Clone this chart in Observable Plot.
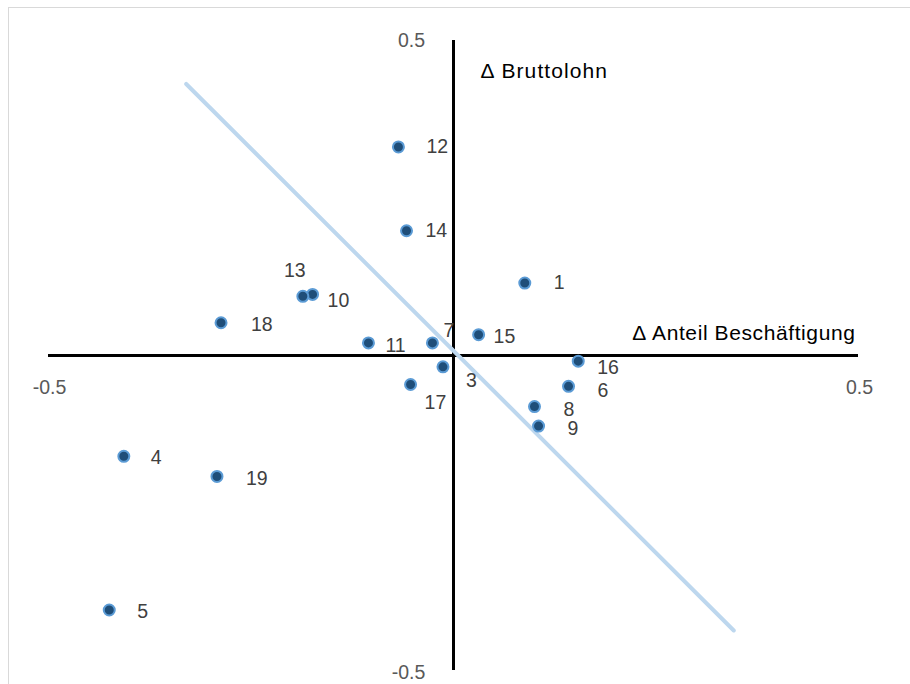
<!DOCTYPE html>
<html>
<head>
<meta charset="utf-8">
<script src="https://cdn.jsdelivr.net/npm/d3@7"></script>
<script src="https://cdn.jsdelivr.net/npm/@observablehq/plot@0.6"></script>
<style>
  html, body { margin: 0; padding: 0; background: #fff; }
  #wrap { position: relative; width: 910px; height: 684px; overflow: hidden; }
  #border { position: absolute; left: 8px; top: 7px; width: 920px; height: 700px; border: 1.5px solid #d9d9d9; box-sizing: border-box; }
  #chart { position: absolute; left: 0; top: 0; }
</style>
</head>
<body>
<div id="wrap"><div id="border"></div><div id="chart"></div></div>
<script>
// Region ids and their changes
const ids     = [1, 3, 4, 5, 6, 7, 8, 9, 10, 11, 12, 13, 14, 15, 16, 17, 18, 19];
const dAnteil = [0.088, -0.013, -0.407, -0.425, 0.142, -0.026, 0.100, 0.105, -0.174, -0.105, -0.068, -0.186, -0.058, 0.031, 0.154, -0.053, -0.287, -0.292];
const dLohn   = [0.115, -0.018, -0.160, -0.404, -0.049, 0.020, -0.081, -0.112, 0.097, 0.020, 0.331, 0.094, 0.198, 0.033, -0.009, -0.046, 0.052, -0.192];

// Linear trend line end points
const trendX = [-0.330, 0.346];
const trendY = [0.431, -0.4365];

// Axis tick labels
const xTicks = [-0.5, 0.5];
const yTicks = [0.5, -0.5];
const xTitle = "Δ Anteil Beschäftigung";
const yTitle = "Δ Bruttolohn";

const points = ids.map((id, i) => ({id, x: dAnteil[i], y: dLohn[i]}));
const trend = trendX.map((x, i) => ({x, y: trendY[i]}));

// label placement (pixel offsets from point)
const defaultOffset = {dx: 28, dy: 2, anchor: "start"};
const labelOffsets = {
  12: {dx: 28, dy: 0}, 14: {dx: 19, dy: 0}, 13: {dx: -8, dy: -26, anchor: "middle"},
  10: {dx: 15, dy: 6}, 18: {dx: 30, dy: 2}, 11: {dx: 17, dy: 3}, 7: {dx: 11, dy: -12},
  1: {dx: 29, dy: 0}, 15: {dx: 15, dy: 2}, 16: {dx: 19, dy: 7}, 6: {dx: 29, dy: 4},
  8: {dx: 29, dy: 3}, 9: {dx: 29, dy: 3}, 3: {dx: 23, dy: 14}, 17: {dx: 14, dy: 18},
  4: {dx: 27, dy: 1}, 19: {dx: 29, dy: 2}, 5: {dx: 28, dy: 2}
};

const font = "Liberation Sans, Arial, sans-serif";
const labelMarks = points.map(p => {
  const o = Object.assign({}, defaultOffset, labelOffsets[p.id] || {});
  return Plot.text([p], {x: "x", y: "y", text: d => String(d.id), dx: o.dx, dy: o.dy,
    textAnchor: o.anchor, lineAnchor: "middle", fill: "#404040", fontSize: 19.5});
});

const chart = Plot.plot({
  width: 910,
  height: 684,
  marginLeft: 48,
  marginRight: 52,
  marginTop: 40,
  marginBottom: 14,
  style: {fontFamily: font, background: "transparent"},
  x: {domain: [-0.5, 0.5], axis: null},
  y: {domain: [-0.5, 0.5], axis: null},
  marks: [
    Plot.ruleY([0], {stroke: "#000", strokeWidth: 3}),
    Plot.ruleX([0], {stroke: "#000", strokeWidth: 3}),
    Plot.line(trend, {x: "x", y: "y", stroke: "#bdd7ee", strokeWidth: 4}),
    Plot.dot(points, {x: "x", y: "y", r: 5.5, fill: "#1f4e79", stroke: "#5b9bd5", strokeWidth: 2}),
    ...labelMarks,
    Plot.text(xTicks, {x: d => d, y: 0, text: d => String(d), dy: 32, dx: 1, fill: "#595959", fontSize: 19.5, lineAnchor: "middle"}),
    Plot.text(yTicks.slice(0, 1), {x: 0, y: d => d, text: d => String(d), dx: -42, dy: 0, fill: "#595959", fontSize: 19.5, lineAnchor: "middle"}),
    Plot.text(yTicks.slice(1), {x: 0, y: d => d, text: d => String(d), dx: -45, dy: 2, fill: "#595959", fontSize: 19.5, lineAnchor: "middle"}),
    Plot.text([yTitle], {x: 0, y: 0.5, text: d => d, dx: 27, dy: 31, textAnchor: "start", lineAnchor: "middle", fill: "#000", fontSize: 21}),
    Plot.text([xTitle], {x: 0.5, y: 0, text: d => d, dx: -3, dy: -22, textAnchor: "end", lineAnchor: "middle", fill: "#000", fontSize: 21})
  ]
});
// loose letter spacing as in the reference titles
chart.querySelectorAll("text").forEach(t => {
  if (t.textContent === yTitle) t.setAttribute("letter-spacing", "1.1");
  if (t.textContent === xTitle) t.setAttribute("letter-spacing", "0.6");
});
document.getElementById("chart").appendChild(chart);
</script>
</body>
</html>
